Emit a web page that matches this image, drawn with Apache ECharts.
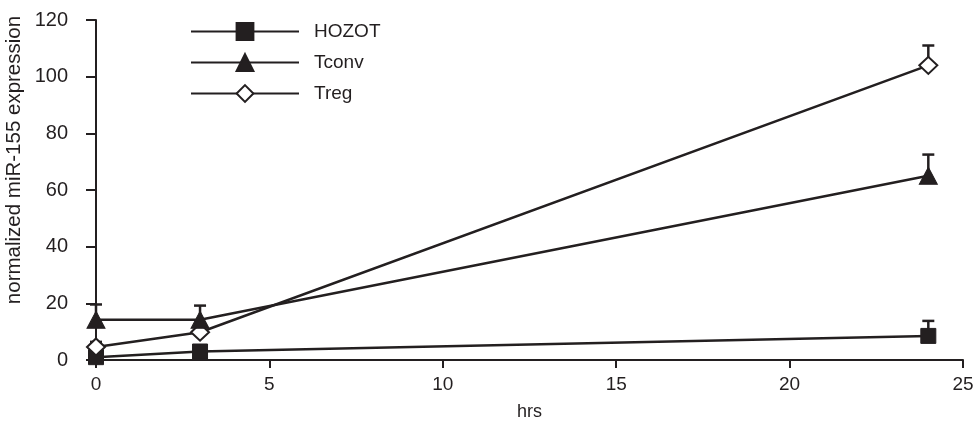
<!DOCTYPE html>
<html><head><meta charset="utf-8">
<script src="https://cdn.jsdelivr.net/npm/echarts@6/dist/echarts.min.js"></script>
<style>html,body{margin:0;padding:0;background:#fff}#c{width:979px;height:427px}</style>
</head><body><div id="c"></div>
<script>
var hours = [0, 3, 24];
var seriesNames = ['HOZOT', 'Tconv', 'Treg'];
var hozot = [1, 3, 8.5];
var hozotErrTop = [2, 4, 13.8];
var tconv = [14.2, 14.2, 65];
var tconvErrTop = [19.6, 19.2, 72.5];
var treg = [4.6, 9.8, 104];
var tregErrTop = [6.4, 11, 111];
var xTicks = [0, 5, 10, 15, 20, 25];
var yTicks = [0, 20, 40, 60, 80, 100, 120];

var ink = '#231f20';
var font = 'Liberation Sans, Arial, sans-serif';

function pts(vals) { return hours.map(function (h, i) { return [h, vals[i]]; }); }
function errPts(vals, tops) { return hours.map(function (h, i) { return [h, vals[i], tops[i]]; }); }

function errSeries(vals, tops, z) {
  return {
    type: 'custom', silent: true, z: z,
    data: errPts(vals, tops),
    renderItem: function (params, api) {
      var x = api.value(0), y = api.value(1), t = api.value(2);
      var p0 = api.coord([x, y]);
      var p1 = api.coord([x, t]);
      return {
        type: 'group', children: [
          { type: 'line', shape: { x1: p0[0], y1: p0[1], x2: p1[0], y2: p1[1] }, style: { stroke: ink, lineWidth: 2.5 } },
          { type: 'line', shape: { x1: p1[0] - 6, y1: p1[1], x2: p1[0] + 6, y2: p1[1] }, style: { stroke: ink, lineWidth: 2.5 } }
        ]
      };
    }
  };
}

var chart = echarts.init(document.getElementById('c'));
chart.setOption({
  animation: false,
  grid: { left: 96, right: 16, top: 20, bottom: 67, outerBoundsMode: 'none', containLabel: false },
  legend: {
    orient: 'vertical', left: 185, top: 17,
    itemWidth: 108, itemHeight: 21, itemGap: 12,
    data: seriesNames,
    textStyle: { fontFamily: font, fontSize: 19, color: ink, padding: [0, 0, 0, 10] }
  },
  graphic: [{
    type: 'text', rotation: Math.PI / 2,
    x: 14, y: 160,
    style: { text: 'normalized miR-155 expression', font: '20.5px ' + font, fill: ink,
      textAlign: 'center', textVerticalAlign: 'middle' }
  }],
  xAxis: {
    type: 'value', min: 0, max: 25, interval: 5,
    name: 'hrs', nameLocation: 'middle', nameGap: 43,
    nameTextStyle: { fontFamily: font, fontSize: 18, color: ink },
    axisLine: { onZero: false, lineStyle: { color: ink, width: 2 } },
    axisTick: { show: true, length: 8, lineStyle: { color: ink, width: 2 } },
    axisLabel: { fontFamily: font, fontSize: 19, color: ink, margin: 15,
      formatter: function (v) { return xTicks.indexOf(v) >= 0 ? String(v) : ''; } },
    splitLine: { show: false }
  },
  yAxis: {
    type: 'value', min: 0, max: 120, interval: 20,
    axisLine: { show: true, onZero: false, lineStyle: { color: ink, width: 2 } },
    axisTick: { show: true, length: 10, lineStyle: { color: ink, width: 2 } },
    axisLabel: { fontFamily: font, fontSize: 20, color: ink, margin: 28,
      formatter: function (v) { return yTicks.indexOf(v) >= 0 ? String(v) : ''; } },
    splitLine: { show: false }
  },
  series: [
    errSeries(hozot, hozotErrTop, 1),
    errSeries(tconv, tconvErrTop, 1),
    errSeries(treg, tregErrTop, 1),
    {
      name: 'HOZOT', type: 'line', z: 3, data: pts(hozot),
      symbol: 'rect', symbolSize: 15, showAllSymbol: true,
      lineStyle: { color: ink, width: 2.5 },
      itemStyle: { color: ink, borderColor: ink, borderWidth: 1 }
    },
    {
      name: 'Tconv', type: 'line', z: 5, data: pts(tconv),
      symbol: 'triangle', symbolSize: [18, 17],
      lineStyle: { color: ink, width: 2.5 },
      itemStyle: { color: ink, borderColor: ink, borderWidth: 1 }
    },
    {
      name: 'Treg', type: 'line', z: 4, data: pts(treg),
      symbol: 'diamond', symbolSize: [18, 17],
      lineStyle: { color: ink, width: 2.5 },
      itemStyle: { color: '#fff', borderColor: ink, borderWidth: 2 }
    }
  ]
});
</script></body></html>
